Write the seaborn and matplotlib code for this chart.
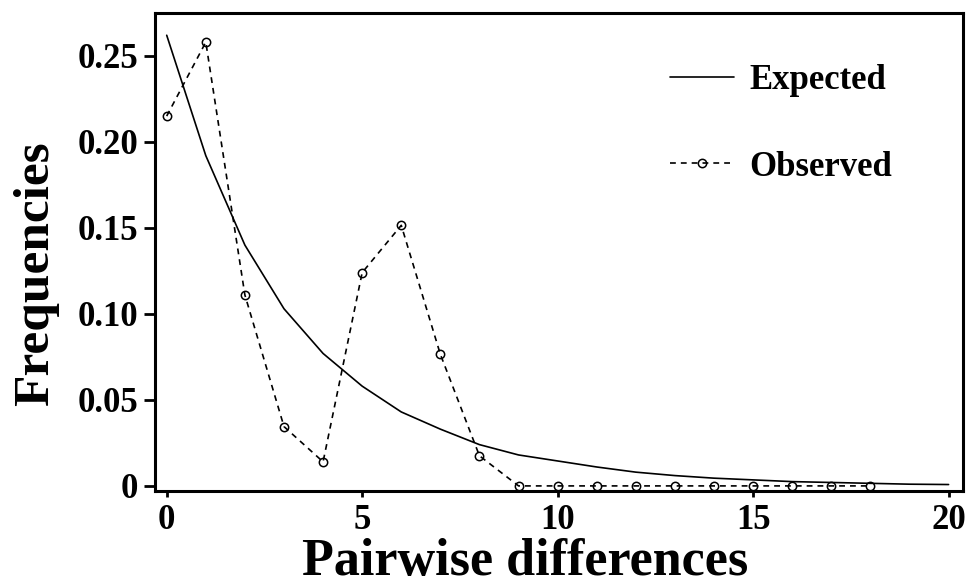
import matplotlib
matplotlib.use("Agg")
import matplotlib.pyplot as plt
import seaborn as sns
import pandas as pd

# Data
x_expected = list(range(0, 21))
y_expected = [0.262, 0.192, 0.140, 0.103, 0.077, 0.058, 0.043, 0.033, 0.024,
              0.018, 0.0145, 0.011, 0.008, 0.006, 0.0045, 0.0035, 0.0025,
              0.002, 0.0015, 0.001, 0.0008]
x_observed = list(range(0, 19))
y_observed = [0.215, 0.258, 0.111, 0.0345, 0.014, 0.124, 0.1515, 0.0765,
              0.0175, 0, 0, 0, 0, 0, 0, 0, 0, 0, 0]
xticks = [0, 5, 10, 15, 20]
yticks = [0, 0.05, 0.10, 0.15, 0.20, 0.25]
ytick_labels = ["0", "0.05", "0.10", "0.15", "0.20", "0.25"]

sns.set_style("white")
plt.rcParams['font.family'] = ['Liberation Serif', 'DejaVu Serif']
plt.rcParams['font.weight'] = 'bold'
plt.rcParams['text.color'] = 'black'
plt.rcParams['axes.labelcolor'] = 'black'
plt.rcParams['xtick.color'] = 'black'
plt.rcParams['ytick.color'] = 'black'

fig = plt.figure(figsize=(9.71, 5.86), dpi=100)
ax = fig.add_axes([0.1596, 0.162, 0.8322, 0.816])

df_e = pd.DataFrame({"x": x_expected, "y": y_expected})
df_o = pd.DataFrame({"x": x_observed, "y": y_observed})

sns.lineplot(data=df_e, x="x", y="y", ax=ax, color="black", linewidth=1.2,
             label="Expected")
sns.lineplot(data=df_o, x="x", y="y", ax=ax, color="black", linewidth=1.2,
             linestyle=(0, (3.5, 3)), marker="o", markersize=6,
             markerfacecolor="none", markeredgecolor="black",
             markeredgewidth=1.1, label="Observed")

ax.set_xlim(-0.3, 20.37)
ax.set_ylim(-0.003, 0.275)
ax.set_xticks(xticks)
ax.set_yticks(yticks)
ax.set_yticklabels(ytick_labels)
ax.tick_params(axis='both', labelsize=25, width=2, colors='black')
ax.tick_params(axis='y', length=8, direction='out', left=True, pad=4)
ax.tick_params(axis='x', length=4, direction='out', bottom=True, pad=5)
for lab in ax.get_xticklabels() + ax.get_yticklabels():
    lab.set_fontweight('bold')
    lab.set_color('black')

for sp in ax.spines.values():
    sp.set_linewidth(2.2)
    sp.set_color("black")

ax.set_xlabel("Pairwise differences", fontsize=37.5, fontweight='bold',
              color='black')
ax.xaxis.set_label_coords(0.4585, -0.098, transform=ax.transAxes)
ax.xaxis.label.set_va('top')
ax.set_ylabel("Frequencies", fontsize=37, fontweight='bold', color='black')
ax.yaxis.set_label_coords(-0.119, 0.455, transform=ax.transAxes)

leg = ax.legend(loc="upper left", bbox_to_anchor=(0.599, 0.959), frameon=False,
                fontsize=25, handlelength=1.85, handletextpad=0.42,
                labelspacing=1.55)
for t in leg.get_texts():
    t.set_fontweight('bold')
    t.set_color('black')

fig.savefig("out.png", dpi=100)
